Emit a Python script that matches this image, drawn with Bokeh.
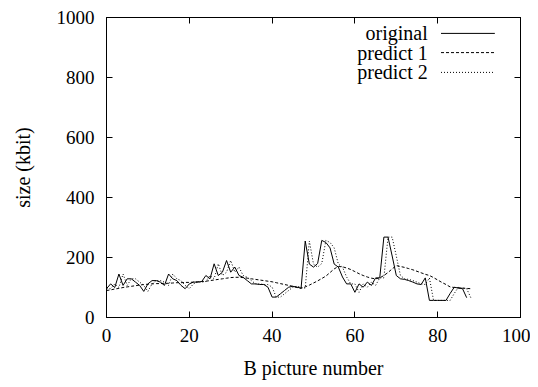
from bokeh.plotting import figure
from bokeh.models import Range1d, LinearAxis, FixedTicker, CustomJSTickFormatter
from bokeh.core.properties import value
from bokeh.embed import file_html
from bokeh.resources import INLINE

# ---- data ----
original = [96, 112, 100, 145, 107, 129, 129, 118, 107, 87, 112, 123, 123, 118, 107,
            145, 129, 123, 107, 96, 112, 118, 118, 120, 140, 129, 179, 140, 151, 190,
            151, 168, 140, 134, 123, 112, 112, 110, 110, 101, 68, 68, 79, 90, 101,
            104, 101, 98, 255, 178, 168, 180, 257, 250, 232, 178, 168, 135, 112, 112,
            84, 112, 101, 118, 107, 132, 132, 268, 268, 205, 140, 129, 127, 123, 118,
            112, 110, 132, 57, 57, 57, 57, 57, 80, 101, 98, 96, 66]
predict1 = [90, 92, 95, 97, 100, 102, 104, 106, 108, 110, 111, 112, 113, 113, 114,
            114, 115, 116, 116, 117, 117, 118, 119, 120, 121, 123, 125, 127, 129, 131,
            133, 134, 134, 133, 131, 129, 127, 125, 123, 121, 119, 116, 113, 110, 107,
            104, 100, 97, 102, 108, 115, 122, 130, 138, 150, 162, 170, 169, 165, 160,
            153, 146, 140, 135, 131, 129, 132, 140, 150, 162, 173, 170, 167, 163, 159,
            154, 149, 144, 140, 133, 125, 117, 110, 102, 100, 99, 98, 97, 96]
predict2 = [96, 96, 112, 100, 145, 107, 129, 129, 118, 107, 87, 112, 123, 123, 118,
            107, 145, 129, 123, 107, 96, 112, 118, 118, 120, 140, 129, 179, 140, 151,
            190, 151, 168, 140, 134, 123, 112, 112, 110, 110, 101, 68, 68, 79, 90,
            101, 104, 101, 98, 255, 178, 168, 180, 257, 250, 232, 178, 168, 135, 112,
            112, 84, 112, 101, 118, 107, 132, 132, 268, 268, 205, 140, 129, 127, 123,
            118, 112, 110, 132, 57, 57, 57, 57, 57, 80, 101, 98, 96, 66]
x_ticks = [0, 20, 40, 60, 80, 100]
y_ticks = [0, 200, 400, 600, 800, 1000]
series_names = ["original", "predict 1", "predict 2"]
series_dash = ["solid", "3 2", "1 2"]

FONT = "Liberation Serif"
FS_TICK = "19px"
FS = "20px"

p = figure(frame_width=414, frame_height=300, output_backend="svg", toolbar_location=None,
           x_range=Range1d(0, 100), y_range=Range1d(0, 1000),
           min_border_left=106, min_border_right=10, min_border_top=17, min_border_bottom=62)
p.grid.visible = False
p.outline_line_color = "black"
p.outline_line_width = 1
p.background_fill_color = "white"
p.border_fill_color = "white"

for ax, ticks in ((p.xaxis[0], x_ticks), (p.yaxis[0], y_ticks)):
    ax.ticker = FixedTicker(ticks=ticks)
    ax.major_tick_in = 6
    ax.major_tick_out = 0
    ax.minor_tick_line_color = None
    ax.axis_line_color = "black"
    ax.major_tick_line_color = "black"
    ax.major_label_text_font = FONT
    ax.major_label_text_font_size = FS_TICK
    ax.major_label_text_color = "black"
    ax.axis_label_text_font = FONT
    ax.axis_label_text_font_size = FS
    ax.axis_label_text_font_style = "normal"
    ax.axis_label_text_color = "black"

p.xaxis.axis_label = "B picture number"
p.yaxis.axis_label = "size (kbit)"
p.xaxis.major_label_standoff = 11
p.yaxis.major_label_standoff = 12
p.xaxis.axis_label_standoff = 12
p.yaxis.axis_label_standoff = 20

# mirrored ticks on top and right (no labels)
for loc, ticks in (("above", x_ticks), ("right", y_ticks)):
    a = LinearAxis(ticker=FixedTicker(ticks=ticks), major_tick_in=6, major_tick_out=0,
                   minor_tick_line_color=None,
                   formatter=CustomJSTickFormatter(code="return ''"),
                   major_label_standoff=0, axis_line_color="black")
    p.add_layout(a, loc)

p.line(list(range(len(original))), original, line_color="black", line_width=1)
p.line(list(range(len(predict1))), predict1, line_color="black", line_width=1, line_dash="3 2")
p.line(list(range(len(predict2))), predict2, line_color="black", line_width=1, line_dash="1 2")

# key (gnuplot style: text then line sample)
key_y = [947, 883, 817]
p.text(x=[77.6] * 3, y=key_y, text=series_names, text_align="right",
       text_baseline="middle", text_font=value(FONT), text_font_size=FS, text_color="black")
for yy, dash in zip(key_y, series_dash):
    p.line([80.8, 93.8], [yy, yy], line_color="black", line_width=1, line_dash=dash)

open("out.html", "w").write(file_html(p, INLINE))
